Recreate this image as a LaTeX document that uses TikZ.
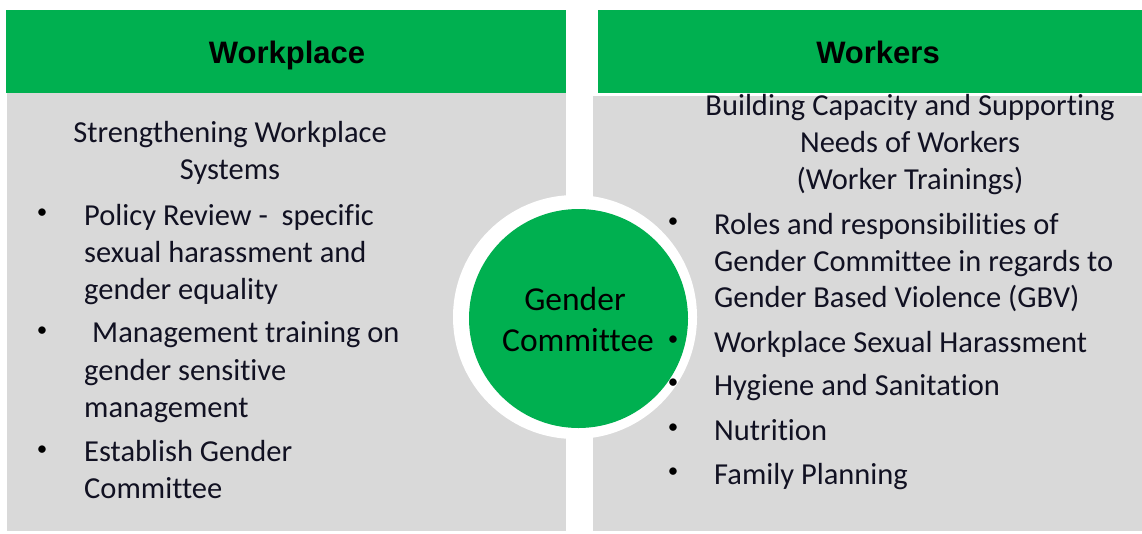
\documentclass[tikz,border=0pt]{standalone}
\usepackage{fontspec}
\setmainfont{Carlito}[Ligatures=NoCommon]
\newfontfamily\hdrfont{Liberation Sans}
\definecolor{hdrgreen}{HTML}{00B050}
\definecolor{panelgray}{HTML}{D9D9D9}
\definecolor{bodytext}{HTML}{111122}
\tikzset{
  header/.style={fill=hdrgreen, draw=none},
  panel/.style={fill=panelgray, draw=none},
  hdrtext/.style={font=\hdrfont\bfseries\fontsize{31}{36}\selectfont, text=black, inner sep=0pt, anchor=base},
  line/.style={font=\fontsize{30.5}{37}\selectfont, text=bodytext, inner sep=0pt, anchor=base west},
  cline/.style={font=\fontsize{30.5}{37}\selectfont, text=bodytext, inner sep=0pt, anchor=base},
  circtext/.style={font=\fontsize{33.5}{40}\selectfont, text=black, inner sep=0pt, anchor=base},
  bul/.style={font=\fontsize{21}{26}\selectfont, text=black, inner sep=0pt, anchor=center},
}
\begin{document}
\begin{tikzpicture}[x=1pt,y=-1pt]
\useasboundingbox[fill=white] (0,0) rectangle (1142,533);
% headers and panels
\fill[header] (6,10) rectangle (566,93);
\fill[header] (598,10) rectangle (1142,93);
\fill[panel] (7,93) rectangle (566,531);
\fill[panel] (593,96) rectangle (1142,531);
\node[hdrtext] (hl) at (287,63) {Workplace};
\node[hdrtext] (hr) at (878,63) {Workers};
% central circle
\fill[white] (575,317) circle[radius=122];
\node[circle, fill=hdrgreen, minimum size=219pt, inner sep=0pt] (gc) at (578.5,318.5) {};
\node[circtext] (gc1) at (575,310) {Gender};
\node[circtext] (gc2) at (578,351) {Committee};
% left panel
\node[cline] (l0a) at (230,142) {Strengthening Workplace};
\node[cline] (l0b) at (230,179) {Systems};
\node[bul] (lb1) at (42,214) {•};
\node[line] (l1a) at (84,225) {Policy Review -\ \ specific};
\node[line] (l1b) at (84,262) {sexual harassment and};
\node[line] (l1c) at (84,299) {gender equality};
\node[bul] (lb2) at (42,332) {•};
\node[line] (l2a) at (92,342) {Management training on};
\node[line] (l2b) at (84,380) {gender sensitive};
\node[line] (l2c) at (84,417) {management};
\node[bul] (lb3) at (42,451) {•};
\node[line] (l3a) at (84,461) {Establish Gender};
\node[line] (l3b) at (84,498) {Committee};
% right panel
\node[cline] (r0a) at (910,115) {Building Capacity and Supporting};
\node[cline] (r0b) at (910,152) {Needs of Workers};
\node[cline] (r0c) at (910,189) {(Worker Trainings)};
\node[bul] (rb1) at (673,223) {•};
\node[line] (r1a) at (714,234) {Roles and responsibilities of};
\node[line] (r1b) at (714,271) {Gender Committee in regards to};
\node[line] (r1c) at (714,307) {Gender Based Violence (GBV)};
\node[bul] (rb2) at (673,341) {•};
\node[line] (r2) at (714,352) {Workplace Sexual Harassment};
\node[bul] (rb3) at (673,384) {•};
\node[line] (r3) at (714,395) {Hygiene and Sanitation};
\node[bul] (rb4) at (673,429) {•};
\node[line] (r4) at (714,440) {Nutrition};
\node[bul] (rb5) at (673,473) {•};
\node[line] (r5) at (714,484) {Family Planning};
\end{tikzpicture}
\end{document}
